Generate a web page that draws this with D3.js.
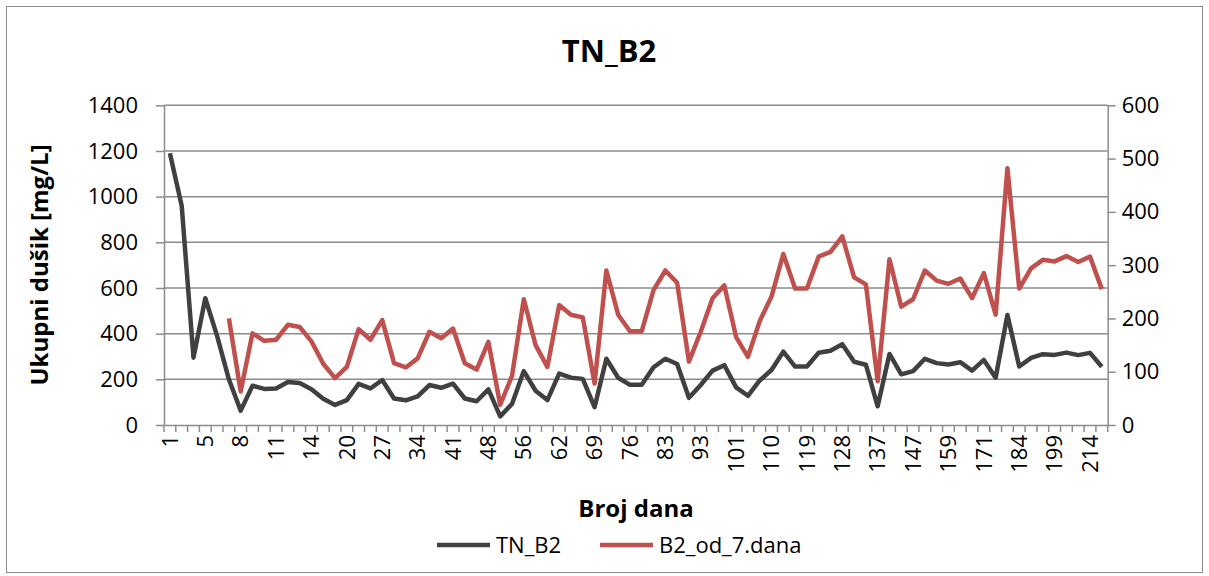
<!DOCTYPE html>
<meta charset="utf-8">
<style>
    html, body {
        margin: 0;
        background: white;
    }

    text {
        font-family: "Open Sans", sans-serif;
        fill: black;
    }

    .grid line {
        stroke: #8c8c8c;
        stroke-width: 1.5px;
    }

    .axis path, .axis line {
        stroke: #8c8c8c;
        stroke-width: 1.5px;
    }
</style>
<div id="container"></div>
<script src="https://d3js.org/d3.v7.min.js"></script>
<script>
    // day numbers on the x axis (only every third one gets a label)
    var days = [1, 2, 3, 5, 6, 7, 8, 9, 10, 11, 12, 13, 14, 16, 18, 20, 22, 25, 27, 29,
        32, 34, 36, 39, 41, 43, 46, 48, 50, 53, 56, 58, 60, 62, 64, 67, 69, 71, 74, 76,
        78, 81, 83, 86, 90, 93, 95, 98, 101, 104, 107, 110, 113, 116, 119, 122, 125, 128, 131, 134,
        137, 140, 143, 147, 151, 155, 159, 163, 167, 171, 175, 180, 184, 189, 194, 199, 204, 209, 214, 219];

    // total nitrogen, mg/L
    var tnB2 = [1190, 960, 295, 555, 390, 200, 63, 172, 158, 160, 188, 184, 157, 115, 88, 109, 180, 160, 197, 116,
        108, 125, 175, 163, 181, 116, 104, 156, 38, 92, 236, 150, 109, 225, 207, 202, 78, 290, 207, 176,
        176, 253, 290, 267, 119, 175, 238, 262, 165, 128, 195, 241, 321, 256, 256, 316, 325, 354, 277, 264,
        82, 311, 222, 236, 290, 271, 265, 275, 238, 285, 207, 482, 256, 294, 310, 307, 317, 306, 316, 255];

    // same measurements from day 7 onwards, drawn against the right axis
    var startIndex = 5;
    var b2Od7 = tnB2.slice(startIndex);

    var leftTicks = [0, 200, 400, 600, 800, 1000, 1200, 1400];
    var rightTicks = [0, 100, 200, 300, 400, 500, 600];

    var W = 1209, H = 576;
    var plot = {left: 164, right: 1107.7, top: 105.3, bottom: 425};

    var svg = d3.select("div#container")
        .append("svg")
        .attr("width", W)
        .attr("height", H);

    // outer frame
    svg.append("rect")
        .attr("x", 6.5).attr("y", 6.5)
        .attr("width", 1196).attr("height", 566)
        .attr("fill", "white")
        .attr("stroke", "#8c8c8c")
        .attr("stroke-width", 1);

    // scales
    var x = d3.scaleBand()
        .domain(days)
        .range([plot.left, plot.right]);
    var yLeft = d3.scaleLinear()
        .domain([0, 1400])
        .range([plot.bottom, plot.top]);
    var yRight = d3.scaleLinear()
        .domain([0, 600])
        .range([plot.bottom, plot.top]);

    function cx(d) { return x(d) + x.bandwidth() / 2; }

    // horizontal gridlines
    svg.append("g")
        .attr("class", "grid")
        .selectAll("line")
        .data(leftTicks.slice(1))
        .enter().append("line")
        .attr("x1", plot.left).attr("x2", plot.right)
        .attr("y1", function(d) { return yLeft(d); })
        .attr("y2", function(d) { return yLeft(d); });

    // left axis
    var leftAxis = svg.append("g")
        .attr("class", "axis")
        .attr("transform", "translate(" + plot.left + ",0)")
        .call(d3.axisLeft(yLeft).tickValues(leftTicks).tickFormat(d3.format("d"))
            .tickSize(8).tickPadding(18).tickSizeOuter(0));
    leftAxis.selectAll("text").style("font-size", "22px");

    // right axis
    var rightAxis = svg.append("g")
        .attr("class", "axis")
        .attr("transform", "translate(" + plot.right + ",0)")
        .call(d3.axisRight(yRight).tickValues(rightTicks).tickFormat(d3.format("d"))
            .tickSize(8).tickPadding(6).tickSizeOuter(0));
    rightAxis.selectAll("text").style("font-size", "22px");

    // bottom axis: labels on every third day, tick marks between categories
    var bottomAxis = svg.append("g")
        .attr("class", "axis")
        .attr("transform", "translate(0," + plot.bottom + ")")
        .call(d3.axisBottom(x)
            .tickValues(days.filter(function(d, i) { return i % 3 === 0; }))
            .tickSize(0)
            .tickSizeOuter(0));
    bottomAxis.selectAll("text")
        .style("font-size", "22px")
        .attr("text-anchor", "end")
        .attr("transform", "rotate(-90)")
        .attr("x", -10)
        .attr("y", 0)
        .attr("dy", "0.35em");
    bottomAxis.selectAll(".tick line").remove();
    bottomAxis.append("g")
        .selectAll("line")
        .data(days.concat(["end"]))
        .enter().append("line")
        .attr("x1", function(d) { return d === "end" ? plot.right : x(d); })
        .attr("x2", function(d) { return d === "end" ? plot.right : x(d); })
        .attr("y1", 0)
        .attr("y2", 7);

    // lines
    var tnLine = d3.line()
        .x(function(d, i) { return cx(days[i]); })
        .y(function(d) { return yLeft(d); });
    var od7Line = d3.line()
        .x(function(d, i) { return cx(days[i + startIndex]); })
        .y(function(d) { return yRight(d); });

    svg.append("path")
        .datum(tnB2)
        .attr("d", tnLine)
        .attr("fill", "none")
        .attr("stroke", "#404040")
        .attr("stroke-width", 4.5)
        .attr("stroke-linejoin", "round");

    svg.append("path")
        .datum(b2Od7)
        .attr("d", od7Line)
        .attr("fill", "none")
        .attr("stroke", "#c0504d")
        .attr("stroke-width", 4.5)
        .attr("stroke-linejoin", "round");

    // titles
    svg.append("text")
        .attr("x", 609).attr("y", 62)
        .attr("text-anchor", "middle")
        .style("font-size", "31px")
        .style("font-weight", "bold")
        .text("TN_B2");

    svg.append("text")
        .attr("x", 636).attr("y", 517)
        .attr("text-anchor", "middle")
        .style("font-size", "24px")
        .style("font-weight", "bold")
        .text("Broj dana");

    svg.append("text")
        .attr("transform", "translate(48,265) rotate(-90)")
        .attr("text-anchor", "middle")
        .style("font-size", "24px")
        .style("font-weight", "bold")
        .text("Ukupni dušik [mg/L]");

    // legend
    var legendItems = [
        {name: "TN_B2", color: "#404040", x: 437},
        {name: "B2_od_7.dana", color: "#c0504d", x: 600}
    ];
    var legend = svg.append("g")
        .selectAll("g")
        .data(legendItems)
        .enter().append("g")
        .attr("transform", function(d) { return "translate(" + d.x + ",545)"; });
    legend.append("line")
        .attr("x1", 0).attr("x2", 53)
        .attr("stroke", function(d) { return d.color; })
        .attr("stroke-width", 4.5);
    legend.append("text")
        .attr("x", 59)
        .attr("dy", "0.35em")
        .style("font-size", "22px")
        .text(function(d) { return d.name; });
</script>
